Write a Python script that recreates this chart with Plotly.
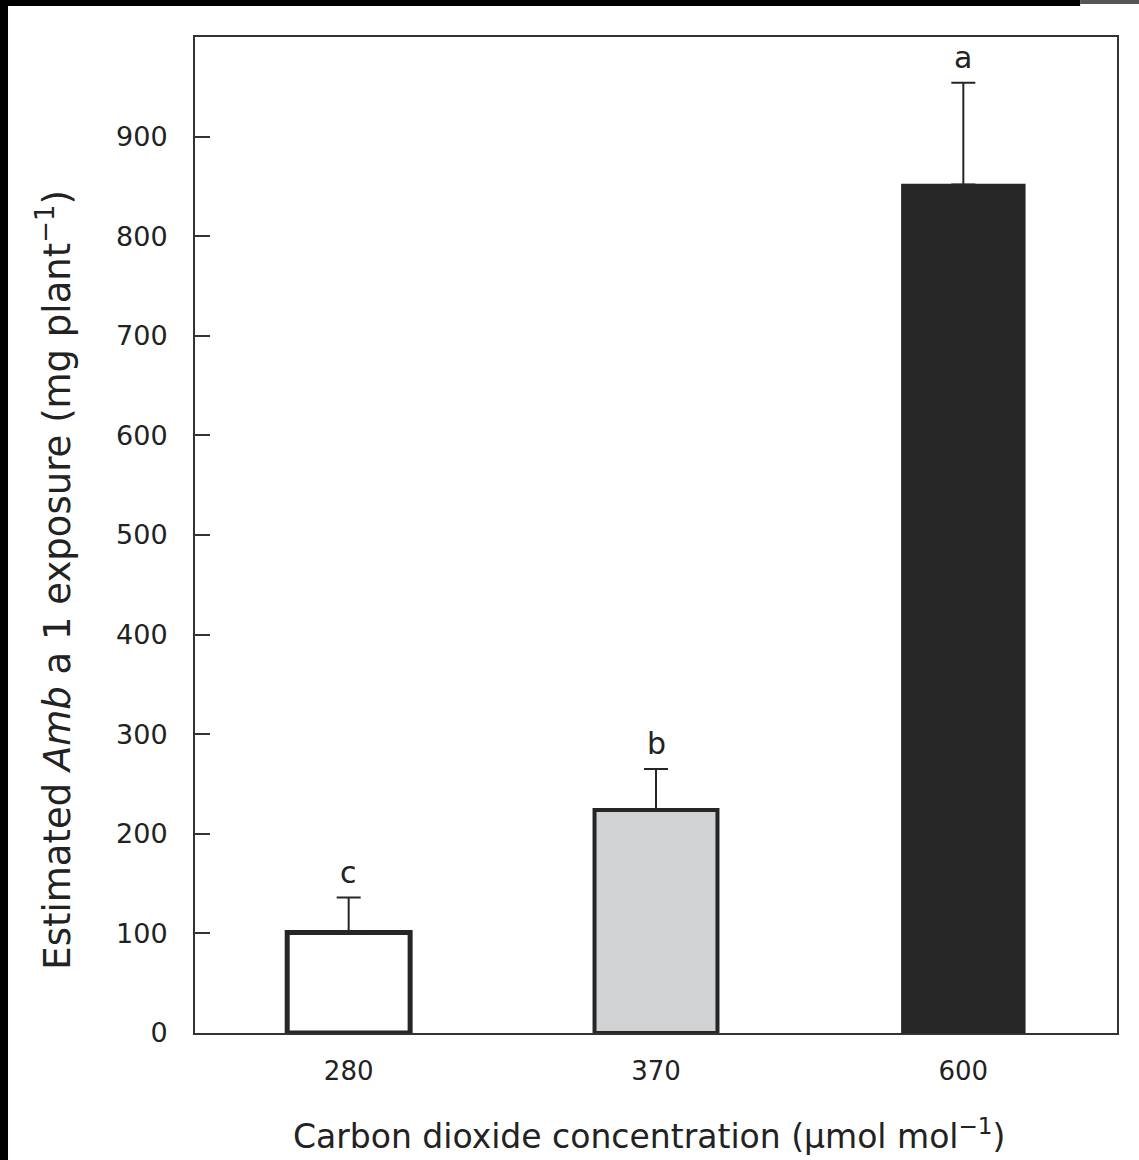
import plotly.graph_objects as go

categories = ["280", "370", "600"]
values = [101, 224, 852]
errors = [35, 41, 102]
letters = ["c", "b", "a"]
fills = ["#ffffff", "#d1d2d4", "#272727"]
outline_widths = [5, 4, 1.5]

FONT = "DejaVu Sans, Liberation Sans, Arial, sans-serif"

fig = go.Figure()
fig.add_trace(go.Bar(
    x=categories, y=values, width=0.4,
    marker=dict(color=fills, line=dict(color="#262626", width=outline_widths)),
    error_y=dict(type="data", array=errors, arrayminus=[0, 0, 0], symmetric=False,
                 color="#262626", thickness=2, width=12),
    showlegend=False,
))

for i, (v, e, l) in enumerate(zip(values, errors, letters)):
    fig.add_annotation(x=i, y=v + e, xref="x", yref="y", text=l, showarrow=False,
                       yanchor="bottom", yshift=6,
                       font=dict(family=FONT, size=30, color="#222"))

# axis titles as annotations for precise placement
fig.add_annotation(xref="paper", yref="paper", x=-0.152, y=0.455,
                   text="Estimated <i>Amb</i> a 1 exposure (mg plant<sup>−1</sup>)",
                   textangle=-90, showarrow=False, xanchor="center", yanchor="middle",
                   font=dict(family=FONT, size=37, color="#222"))
fig.add_annotation(xref="paper", yref="paper", x=0.492, y=-0.1024,
                   text="Carbon dioxide concentration (µmol mol<sup>−1</sup>)",
                   showarrow=False, xanchor="center", yanchor="middle",
                   font=dict(family=FONT, size=33, color="#222"))

# black image border decoration
fig.add_shape(type="rect", xref="paper", yref="paper", x0=-0.2115, x1=-0.2028,
              y0=-0.13, y1=1.04, fillcolor="black", line_width=0, layer="above")
fig.add_shape(type="rect", xref="paper", yref="paper", x0=-0.2115, x1=0.96,
              y0=1.0311, y1=1.04, fillcolor="black", line_width=0, layer="above")
fig.add_shape(type="rect", xref="paper", yref="paper", x0=0.96, x1=1.03,
              y0=1.0331, y1=1.04, fillcolor="#555555", line_width=0, layer="above")

fig.update_layout(
    width=1139, height=1160,
    margin=dict(l=195, r=22, t=37, b=127, autoexpand=False),
    paper_bgcolor="white", plot_bgcolor="white",
    font=dict(family=FONT, color="#222"),
    bargap=0.6,
)
fig.update_xaxes(
    type="category", range=[-0.5, 2.5],
    showline=True, linecolor="#333", linewidth=2, mirror=True,
    ticks="", tickfont=dict(size=26, color="#222"), ticklabelstandoff=14,
    showgrid=False, zeroline=False,
)
fig.update_yaxes(
    range=[0, 1000], tickvals=[0, 100, 200, 300, 400, 500, 600, 700, 800, 900],
    showline=True, linecolor="#333", linewidth=2, mirror=True,
    ticks="inside", ticklen=15, tickwidth=2, tickcolor="#333",
    tickfont=dict(size=27, color="#222"), ticklabelstandoff=20,
    showgrid=False, zeroline=False,
)

fig.write_html("out.html")
